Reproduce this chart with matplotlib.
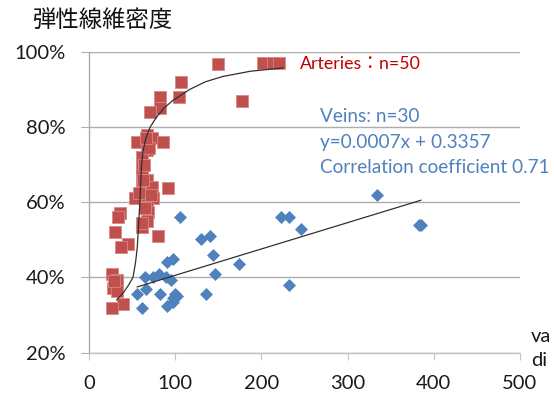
import matplotlib
matplotlib.use("Agg")
import matplotlib.pyplot as plt
from matplotlib.ticker import PercentFormatter, FixedLocator

# ---------------- data ----------------
artery_x = [202, 213, 220, 150, 177, 107, 104, 82, 82, 71,
            56, 67, 73, 86, 67, 61, 61, 61, 67, 61,
            73, 92, 53, 67, 74, 67, 68, 36, 34, 30,
            67, 61, 80, 45, 37, 27, 32, 28, 32, 39,
            27, 64, 70, 63, 58, 65, 72, 62, 66, 29]
artery_y = [0.971, 0.971, 0.971, 0.968, 0.869, 0.92, 0.88, 0.88, 0.85, 0.84,
            0.76, 0.779, 0.77, 0.76, 0.739, 0.72, 0.69, 0.672, 0.659, 0.64,
            0.64, 0.637, 0.61, 0.61, 0.61, 0.587, 0.573, 0.57, 0.56, 0.52,
            0.55, 0.533, 0.51, 0.49, 0.48, 0.41, 0.392, 0.373, 0.365, 0.33,
            0.32, 0.70, 0.745, 0.66, 0.625, 0.585, 0.62, 0.545, 0.77, 0.39]

vein_x = [106, 130, 140, 144, 146, 174, 90, 97, 65, 74,
          81, 89, 95, 56, 66, 82, 100, 102, 97, 90,
          62, 136, 97, 223, 232, 246, 334, 383, 385, 232]
vein_y = [0.56, 0.501, 0.51, 0.459, 0.41, 0.437, 0.44, 0.448, 0.40, 0.40,
          0.41, 0.40, 0.392, 0.357, 0.37, 0.357, 0.357, 0.35, 0.334, 0.323,
          0.32, 0.357, 0.345, 0.56, 0.56, 0.53, 0.62, 0.54, 0.54, 0.38]

# trend line of the arteries
artery_trend_x = [32, 40, 46, 51, 54, 56, 57, 58, 59, 60, 61, 63, 66, 71,
                  78, 87, 97, 117, 135, 155, 187, 225]
artery_trend_y = [0.34, 0.36, 0.38, 0.40, 0.44, 0.48, 0.52, 0.56, 0.60, 0.65,
                  0.70, 0.74, 0.77, 0.80, 0.825, 0.85, 0.87, 0.90, 0.92, 0.934,
                  0.948, 0.957]

# veins linear fit
vein_slope = 0.0007
vein_intercept = 0.3357

x_ticks = [0, 100, 200, 300, 400, 500]
y_ticks = [0.2, 0.4, 0.6, 0.8, 1.0]

title = "弾性線維密度"
artery_label = "Arteries：n=50"
vein_labels = ["Veins: n=30", "y=0.0007x + 0.3357", "Correlation coefficient 0.71"]
x_title_lines = ["va", "di"]

# ---------------- plot ----------------
fam = ["Lato", "Noto Sans CJK JP", "DejaVu Sans"]
plt.rcParams["font.family"] = fam

fig = plt.figure(figsize=(5.54, 3.94), dpi=100)
ax = fig.add_axes([89 / 554, 1 - 352.7 / 394, (520 - 89) / 554, (352.7 - 51.7) / 394])

red = "#C0504D"
blue = "#4F81BD"
grid = "#ADADAD"

ax.set_xlim(0, 500)
ax.set_ylim(0.2, 1.0)
ax.yaxis.set_major_locator(FixedLocator(y_ticks))
ax.xaxis.set_major_locator(FixedLocator(x_ticks))
ax.yaxis.set_major_formatter(PercentFormatter(1.0, decimals=0))

ax.grid(axis="y", color=grid, linewidth=1.0, zorder=0)
ax.set_axisbelow(True)
for s in ["top", "right"]:
    ax.spines[s].set_visible(False)
ax.spines["left"].set_color(grid)
ax.spines["bottom"].set_color("#C4C4C4")
ax.spines["left"].set_linewidth(1.0)
ax.spines["bottom"].set_linewidth(1.0)
ax.tick_params(axis="y", length=6, color=grid, labelsize=14.5, pad=11, labelcolor="#1a1a1a")
ax.tick_params(axis="x", length=5, color="#C4C4C4", labelsize=14.5, pad=11, labelcolor="#1a1a1a")

ax.plot(vein_x, vein_y, linestyle="none", marker="D", markersize=6.5,
        markerfacecolor=blue, markeredgecolor=blue, markeredgewidth=0.5, zorder=3)
ax.plot(artery_x, artery_y, linestyle="none", marker="s", markersize=8.8,
        markerfacecolor=red, markeredgecolor="#D98886", markeredgewidth=0.6, zorder=3)

vx0, vx1 = min(vein_x), max(vein_x)
ax.plot([vx0, vx1], [vein_slope * vx0 + vein_intercept, vein_slope * vx1 + vein_intercept],
        color="#303030", linewidth=0.9, zorder=4)
ax.plot(artery_trend_x, artery_trend_y, color="#303030", linewidth=0.9, zorder=4,
        solid_capstyle="round")

fig.text(33 / 554, 1 - 20 / 394, title, fontsize=16.8, va="center", ha="left",
         family=["Noto Sans CJK JP"], color="#111111")

fig.text(300 / 554, 1 - 64 / 394, artery_label, fontsize=12.8, va="center", ha="left",
         color="#C00000", family=fam)
for i, t in enumerate(vein_labels):
    fig.text(320 / 554, 1 - (117 + 25.5 * i) / 394, t, fontsize=13.7, va="center",
             ha="left", color=blue, family=fam)

for i, t in enumerate(x_title_lines):
    fig.text(531 / 554, 1 - (337 + 24 * i) / 394, t, fontsize=14.5, va="center",
             ha="left", color="#1a1a1a")

fig.savefig("out.png", dpi=100)
